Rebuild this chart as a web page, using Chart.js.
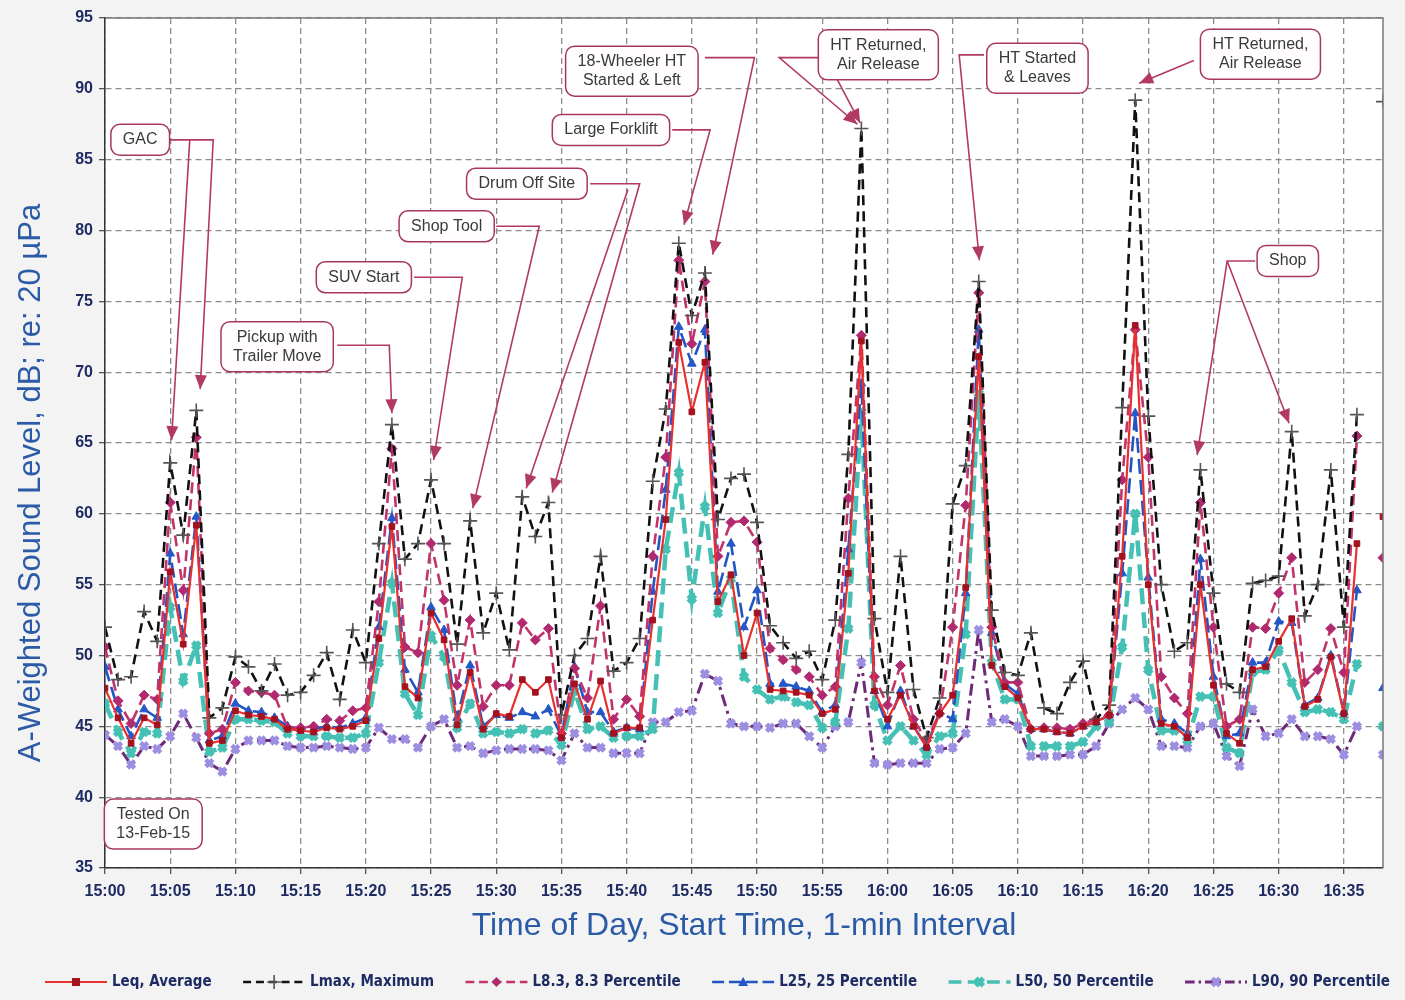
<!DOCTYPE html>
<html>
<head>
<meta charset="utf-8">
<script src="https://cdn.jsdelivr.net/npm/chart.js@4.4.1/dist/chart.umd.min.js"></script>
<style>
  html, body { margin: 0; padding: 0; background: #f3f3f3; }
  #wrap { width: 1405px; height: 1000px; position: relative; }
</style>
</head>
<body>
<div id="wrap"><canvas id="chart"></canvas></div>
<script>
// one reading per minute, starting at 15:00 (index = minutes after 15:00)
const xTickLabels = ['15:00', '15:05', '15:10', '15:15', '15:20', '15:25', '15:30', '15:35', '15:40', '15:45',
    '15:50', '15:55', '16:00', '16:05', '16:10', '16:15', '16:20', '16:25', '16:30', '16:35'];
const yTicks = [35, 40, 45, 50, 55, 60, 65, 70, 75, 80, 85, 90, 95];

const leq = [47.7, 45.6, 43.8, 45.6, 45.1, 55.9, 50.8, 59.2, 43.8, 44.0,
    46.1, 45.8, 45.7, 45.5, 44.8, 44.7, 44.6, 44.9, 44.8, 45.0,
    45.4, 51.2, 59.1, 47.8, 47.0, 53.0, 51.1, 45.1, 48.8, 44.8,
    45.9, 45.7, 48.3, 47.4, 48.3, 44.2, 48.0, 45.5, 48.2, 44.5,
    44.9, 44.9, 52.5, 59.6, 72.1, 67.2, 70.7, 53.8, 55.7, 50.0,
    53.0, 47.6, 47.5, 47.4, 47.2, 45.9, 46.2, 55.8, 72.2, 47.5,
    45.5, 47.2, 45.0, 43.5, 45.9, 47.2, 54.8, 71.1, 49.3, 47.8,
    47.0, 44.8, 44.8, 44.6, 44.5, 45.0, 45.3, 45.8, 57.0, 73.3,
    55.0, 45.2, 45.0, 44.2, 55.0, 47.9, 44.5, 43.8, 49.0, 49.2,
    51.0, 52.6, 46.4, 46.9, 49.9, 45.9, 57.9, null, 59.8];
const lmax = [52.0, 48.3, 48.5, 53.1, 51.0, 63.6, 58.5, 67.3, 45.6, 46.3,
    49.9, 49.2, 47.5, 49.4, 47.2, 47.4, 48.6, 50.2, 46.9, 51.8,
    49.5, 57.9, 66.3, 56.8, 57.9, 62.4, 57.9, 50.8, 59.5, 51.6,
    54.4, 50.4, 61.2, 58.4, 60.8, 45.8, 50.0, 51.2, 57.0, 48.9,
    49.5, 51.2, 62.3, 67.4, 79.1, 74.0, 77.0, 59.6, 62.5, 62.8,
    59.4, 52.1, 50.9, 49.8, 50.3, 48.3, 52.5, 64.2, 87.2, 52.6,
    47.4, 57.0, 47.6, 44.2, 47.0, 60.7, 63.4, 76.4, 53.2, 48.8,
    48.6, 51.6, 46.3, 45.9, 48.1, 49.6, 45.5, 46.5, 67.5, 89.2,
    66.9, 55.0, 50.3, 50.9, 63.1, 54.4, 48.0, 47.4, 55.1, 55.3,
    55.6, 65.8, 52.8, 55.0, 63.1, 52.0, 67.0, null, 89.1];
const l83 = [50.6, 46.8, 45.2, 47.2, 46.9, 60.8, 54.6, 65.4, 44.5, 44.8,
    48.1, 47.5, 47.4, 47.2, 44.9, 44.9, 45.0, 45.5, 45.4, 46.1,
    46.3, 53.8, 64.6, 50.6, 50.2, 57.9, 53.9, 47.9, 52.5, 46.4,
    47.9, 47.9, 52.3, 51.1, 51.9, 44.5, 49.1, 47.0, 53.5, 45.5,
    46.9, 45.7, 57.0, 64.0, 77.9, 72.0, 76.4, 57.0, 59.4, 59.5,
    58.0, 50.5, 49.7, 49.0, 48.5, 47.2, 47.8, 61.1, 72.6, 48.5,
    46.5, 49.3, 45.5, 44.0, 45.9, 52.0, 60.6, 75.6, 52.0, 48.1,
    48.1, 44.8, 44.9, 44.9, 44.8, 45.2, 45.5, 45.8, 62.4, 73.0,
    64.0, 48.5, 47.0, 45.9, 60.8, 52.0, 45.0, 45.5, 52.0, 51.9,
    54.4, 56.9, 48.1, 49.0, 51.9, 48.8, 65.5, null, 56.9];
const l25 = [49.2, 46.2, 44.3, 46.2, 45.6, 57.2, 51.5, 59.8, 44.0, 44.3,
    46.6, 46.1, 46.0, 45.6, 45.0, 44.8, 44.8, 45.0, 44.9, 45.2,
    45.6, 52.0, 59.7, 49.0, 47.4, 53.4, 51.8, 45.6, 49.3, 45.0,
    45.8, 45.6, 46.0, 45.7, 46.2, 44.3, 49.2, 46.0, 46.0, 44.6,
    44.9, 44.8, 54.5, 61.7, 73.2, 70.6, 73.0, 54.5, 57.9, 52.0,
    54.6, 48.0, 48.0, 47.8, 47.5, 46.0, 46.5, 57.5, 69.2, 47.5,
    45.0, 47.5, 45.0, 43.6, 46.0, 45.5, 54.4, 73.0, 51.6, 48.0,
    47.3, 44.8, 44.8, 44.6, 44.5, 45.0, 45.3, 45.8, 55.8, 67.1,
    55.5, 45.5, 45.2, 44.5, 56.8, 48.5, 44.3, 44.5, 49.5, 49.5,
    52.4, 52.3, 46.5, 47.0, 50.0, 46.0, 54.6, null, 47.7];
const l50 = [46.6, 44.6, 43.1, 44.6, 44.5, 53.4, 48.2, 50.7, 43.2, 43.5,
    45.5, 45.5, 45.4, 45.3, 44.5, 44.3, 44.3, 44.3, 44.2, 44.2,
    44.5, 49.5, 55.1, 47.3, 45.8, 51.4, 49.9, 44.9, 46.6, 44.5,
    44.6, 44.5, 44.8, 44.5, 44.7, 43.7, 47.5, 44.8, 45.0, 44.2,
    44.3, 44.3, 44.8, 57.5, 62.9, 54.0, 60.5, 53.0, 55.4, 48.5,
    47.6, 46.9, 47.1, 46.7, 46.5, 44.9, 45.3, 51.9, 67.2, 46.5,
    44.0, 45.0, 44.0, 43.0, 44.3, 44.5, 51.5, 68.5, 49.5, 46.9,
    46.9, 43.6, 43.6, 43.6, 43.6, 43.9, 45.0, 45.3, 50.6, 60.0,
    49.0, 44.7, 44.7, 44.0, 47.1, 47.1, 43.5, 43.1, 48.8, 49.0,
    50.4, 48.1, 46.0, 46.2, 46.0, 45.5, 49.4, null, 45.0];
const l90 = [44.4, 43.6, 42.3, 43.6, 43.4, 44.3, 45.9, 44.2, 42.4, 41.8,
    43.4, 44.0, 44.0, 44.0, 43.6, 43.5, 43.5, 43.6, 43.5, 43.4,
    43.5, 44.9, 44.1, 44.1, 43.5, 45.0, 45.5, 43.5, 43.6, 43.1,
    43.3, 43.4, 43.4, 43.4, 43.3, 42.6, 44.5, 43.5, 43.5, 43.1,
    43.1, 43.1, 45.3, 45.3, 46.0, 46.1, 48.7, 48.2, 45.2, 45.0,
    45.0, 44.9, 45.2, 45.2, 44.3, 43.5, 45.0, 45.3, 49.5, 42.4,
    42.3, 42.4, 42.4, 42.4, 43.4, 43.5, 44.5, 51.8, 45.3, 45.5,
    45.0, 42.9, 42.9, 42.9, 43.0, 43.0, 43.6, 45.2, 46.2, 47.0,
    46.2, 43.6, 43.6, 43.5, 45.0, 45.2, 42.9, 42.2, 46.2, 44.3,
    44.5, 45.5, 44.3, 44.3, 44.1, 43.0, 45.0, null, 43.0];

// callout boxes: centre and arrow paths in (minute, dB)
const notes = [
    { lines: ['GAC'], at: [2.7, 86.4],
      arrows: [[[4.8, 86.4], [8.3, 86.4], [7.3, 68.8]], [[6.5, 86.4], [5.1, 65.2]]] },
    { lines: ['Pickup with', 'Trailer Move'], at: [13.2, 71.8],
      arrows: [[[17.8, 71.9], [21.8, 71.9], [22.0, 67.1]]] },
    { lines: ['SUV Start'], at: [19.85, 76.7],
      arrows: [[[23.7, 76.7], [27.4, 76.7], [25.2, 63.8]]] },
    { lines: ['Shop Tool'], at: [26.2, 80.3],
      arrows: [[[30.0, 80.3], [33.3, 80.3], [28.2, 60.4]]] },
    { lines: ['Drum Off Site'], at: [32.35, 83.3],
      arrows: [[[37.2, 83.3], [41.0, 83.3], [34.3, 61.5]], [[40.1, 82.9], [32.3, 61.8]]] },
    { lines: ['Large Forklift'], at: [38.8, 87.1],
      arrows: [[[43.5, 87.1], [46.4, 87.1], [44.4, 80.4]]] },
    { lines: ['18-Wheeler HT', 'Started & Left'], at: [40.4, 91.25],
      arrows: [[[46.0, 92.2], [49.8, 92.2], [46.6, 78.3]]] },
    { lines: ['HT Returned,', 'Air Release'], at: [59.3, 92.4],
      arrows: [[[54.8, 92.2], [51.7, 92.2], [57.7, 87.5]], [[55.5, 91.8], [57.9, 87.6]]] },
    { lines: ['HT Started', '& Leaves'], at: [71.5, 91.45],
      arrows: [[[67.4, 92.4], [65.5, 92.4], [67.05, 77.9]]] },
    { lines: ['HT Returned,', 'Air Release'], at: [88.6, 92.45],
      arrows: [[[83.5, 92.0], [79.3, 90.4]]] },
    { lines: ['Shop'], at: [90.7, 77.85],
      arrows: [[[88.2, 77.85], [86.05, 77.85], [83.75, 64.15]], [[86.05, 77.85], [90.8, 66.4]]] },
    { lines: ['Tested On', '13-Feb-15'], at: [3.7, 38.1], arrows: [] }
];

const navy = '#1d2b62';
const axisBlue = '#2b5aa6';

const toPoints = arr => arr.map((v, i) => ({ x: i, y: v }));

const series = [
    { label: 'Leq, Average', data: leq, color: '#e8302e', width: 2.2, dash: [],
      pStyle: 'rect', pRadius: 4, pFill: '#a3121f', pBorder: '#a3121f', pWidth: 1 },
    { label: 'Lmax, Maximum', data: lmax, color: '#111111', width: 2.6, dash: [10, 6],
      pStyle: 'cross', pRadius: 7, pFill: '#666', pBorder: '#555', pWidth: 1.6 },
    { label: 'L8.3, 8.3 Percentile', data: l83, color: '#c2336b', width: 2.6, dash: [11, 6],
      pStyle: 'rectRot', pRadius: 5, pFill: '#b12a70', pBorder: '#b12a70', pWidth: 1 },
    { label: 'L25, 25 Percentile', data: l25, color: '#2255c4', width: 2.6, dash: [15, 6],
      pStyle: 'triangle', pRadius: 5, pFill: '#2458c8', pBorder: '#2458c8', pWidth: 1 },
    { label: 'L50, 50 Percentile', data: l50, color: '#45c0b5', width: 4.5, dash: [16, 8],
      pStyle: 'crossRot', pRadius: 5, pFill: '#45c0b5', pBorder: '#45c0b5', pWidth: 5 },
    { label: 'L90, 90 Percentile', data: l90, color: '#6e2a78', width: 3, dash: [12, 5, 3, 5],
      pStyle: 'crossRot', pRadius: 5, pFill: '#9c8ee0', pBorder: '#9c8ee0', pWidth: 4.5 }
];

// small marker drawer for legend samples
function drawMarker(ctx, s, x, y) {
    const r = s.pRadius;
    ctx.save();
    ctx.fillStyle = s.pFill;
    ctx.strokeStyle = s.pBorder;
    ctx.lineWidth = s.pWidth;
    ctx.setLineDash([]);
    ctx.beginPath();
    if (s.pStyle === 'rect') {
        ctx.rect(x - r, y - r, 2 * r, 2 * r);
        ctx.fill();
    } else if (s.pStyle === 'rectRot') {
        ctx.moveTo(x, y - r); ctx.lineTo(x + r, y); ctx.lineTo(x, y + r); ctx.lineTo(x - r, y);
        ctx.closePath(); ctx.fill();
    } else if (s.pStyle === 'triangle') {
        ctx.moveTo(x, y - r); ctx.lineTo(x + r, y + r * 0.8); ctx.lineTo(x - r, y + r * 0.8);
        ctx.closePath(); ctx.fill();
    } else if (s.pStyle === 'cross') {
        ctx.moveTo(x - r, y); ctx.lineTo(x + r, y); ctx.moveTo(x, y - r); ctx.lineTo(x, y + r);
        ctx.stroke();
    } else {
        const d = r * 0.75;
        ctx.moveTo(x - d, y - d); ctx.lineTo(x + d, y + d); ctx.moveTo(x + d, y - d); ctx.lineTo(x - d, y + d);
        ctx.stroke();
    }
    ctx.restore();
}

const backgroundPlugin = {
    id: 'bg',
    beforeDraw(chart) {
        const { ctx, chartArea: a } = chart;
        ctx.save();
        ctx.fillStyle = '#f3f3f3';
        ctx.fillRect(0, 0, chart.width, chart.height);
        ctx.fillStyle = '#ffffff';
        ctx.fillRect(a.left, a.top, a.right - a.left, a.bottom - a.top);
        ctx.restore();
    },
    afterDraw(chart) {
        const { ctx, chartArea: a } = chart;
        ctx.save();
        // frame of the plot area
        ctx.strokeStyle = '#7a7a7a';
        ctx.lineWidth = 1.5;
        ctx.beginPath();
        ctx.moveTo(a.left, a.top); ctx.lineTo(a.right, a.top); ctx.lineTo(a.right, a.bottom);
        ctx.stroke();

        // y axis title
        ctx.fillStyle = axisBlue;
        ctx.font = '31px "Liberation Sans", Arial, sans-serif';
        ctx.textAlign = 'center';
        ctx.textBaseline = 'middle';
        ctx.translate(31, (a.top + a.bottom) / 2 + 40);
        ctx.rotate(-Math.PI / 2);
        ctx.fillText('A-Weighted Sound Level, dB; re: 20 \u00b5Pa', 0, 0);
        ctx.restore();

        // legend along the bottom edge
        ctx.save();
        ctx.font = 'bold 15px "Liberation Sans Narrow", "DejaVu Sans Condensed", Arial, sans-serif';
        ctx.textBaseline = 'middle';
        const sample = 62, gap = 5, left = 45, right = 1390, yMid = 982;
        const widths = series.map(s => sample + gap + ctx.measureText(s.label).width);
        const space = (right - left - widths.reduce((p, c) => p + c, 0)) / (series.length - 1);
        let xPos = left;
        series.forEach((s, i) => {
            ctx.strokeStyle = s.color;
            ctx.lineWidth = Math.min(s.width, 3.5);
            ctx.setLineDash(s.dash.length ? s.dash.map(d => d * 0.8) : []);
            ctx.beginPath();
            ctx.moveTo(xPos, yMid); ctx.lineTo(xPos + sample, yMid);
            ctx.stroke();
            drawMarker(ctx, s, xPos + sample / 2, yMid);
            ctx.fillStyle = navy;
            ctx.setLineDash([]);
            ctx.fillText(s.label, xPos + sample + gap, yMid);
            xPos += widths[i] + space;
        });
        ctx.restore();
    }
};

const notesPlugin = {
    id: 'notes',
    afterDatasetsDraw(chart) {
        const { ctx, scales: { x, y } } = chart;
        const px = p => [x.getPixelForValue(p[0]), y.getPixelForValue(p[1])];
        ctx.save();
        ctx.font = '16px "Liberation Sans", Arial, sans-serif';
        notes.forEach(n => {
            ctx.strokeStyle = '#b23a62';
            ctx.fillStyle = '#b23a62';
            ctx.lineWidth = 1.6;
            ctx.setLineDash([]);
            n.arrows.forEach(path => {
                const pts = path.map(px);
                ctx.beginPath();
                ctx.moveTo(pts[0][0], pts[0][1]);
                pts.slice(1).forEach(p => ctx.lineTo(p[0], p[1]));
                ctx.stroke();
                const [x1, y1] = pts[pts.length - 2];
                const [x2, y2] = pts[pts.length - 1];
                const ang = Math.atan2(y2 - y1, x2 - x1);
                const len = 14, half = 6;
                ctx.beginPath();
                ctx.moveTo(x2, y2);
                ctx.lineTo(x2 - len * Math.cos(ang) + half * Math.sin(ang), y2 - len * Math.sin(ang) - half * Math.cos(ang));
                ctx.lineTo(x2 - len * Math.cos(ang) - half * Math.sin(ang), y2 - len * Math.sin(ang) + half * Math.cos(ang));
                ctx.closePath();
                ctx.fill();
            });

            const [cx, cy] = px(n.at);
            const tw = Math.max(...n.lines.map(l => ctx.measureText(l).width));
            const w = tw + 24, h = n.lines.length * 19 + 12;
            ctx.beginPath();
            ctx.roundRect(cx - w / 2, cy - h / 2, w, h, 9);
            ctx.fillStyle = '#fffdfd';
            ctx.fill();
            ctx.strokeStyle = '#a8385a';
            ctx.lineWidth = 1.5;
            ctx.stroke();
            ctx.fillStyle = '#3a3a3a';
            ctx.textAlign = 'center';
            ctx.textBaseline = 'middle';
            n.lines.forEach((l, i) => {
                ctx.fillText(l, cx, cy - (n.lines.length - 1) * 9.5 + i * 19);
            });
        });
        ctx.restore();
    }
};

new Chart(document.getElementById('chart'), {
    type: 'line',
    data: {
        datasets: series.map(s => ({
            label: s.label,
            data: toPoints(s.data),
            borderColor: s.color,
            borderWidth: s.width,
            borderDash: s.dash,
            pointStyle: s.pStyle,
            pointRadius: s.pRadius,
            pointBackgroundColor: s.pFill,
            pointBorderColor: s.pBorder,
            pointBorderWidth: s.pWidth,
            fill: false,
            tension: 0,
            spanGaps: false
        }))
    },
    options: {
        responsive: true,
        maintainAspectRatio: false,
        animation: false,
        layout: { padding: { left: 0, right: 22, top: 18, bottom: 0 } },
        plugins: {
            legend: { display: false },
            tooltip: { enabled: false }
        },
        scales: {
            x: {
                type: 'linear',
                min: 0,
                max: 98,
                afterFit: s => { s.height = 132; },
                ticks: {
                    stepSize: 5,
                    includeBounds: false,
                    autoSkip: false,
                    maxRotation: 0,
                    padding: 8,
                    color: navy,
                    font: { family: '"Liberation Sans", Arial, sans-serif', size: 16, weight: 'bold' },
                    callback: v => xTickLabels[v / 5] ?? ''
                },
                grid: { color: '#8c8c8c', lineWidth: 1.3, tickLength: 6, tickColor: '#555' },
                border: { display: true, color: '#333', width: 1.5, dash: [6, 4] },
                title: {
                    display: true,
                    text: 'Time of Day, Start Time, 1-min Interval',
                    color: axisBlue,
                    font: { family: '"Liberation Sans", Arial, sans-serif', size: 32 },
                    padding: { top: 0, bottom: 55 }
                }
            },
            y: {
                min: 35,
                max: 95,
                afterFit: s => { s.width = 105; },
                afterBuildTicks: s => { s.ticks = yTicks.map(v => ({ value: v })); },
                ticks: {
                    padding: 6,
                    color: navy,
                    font: { family: '"Liberation Sans", Arial, sans-serif', size: 16, weight: 'bold' }
                },
                grid: { color: '#8c8c8c', lineWidth: 1.3, tickLength: 6, tickColor: '#555' },
                border: { display: true, color: '#333', width: 1.5, dash: [6, 4] }
            }
        }
    },
    plugins: [backgroundPlugin, notesPlugin]
});
</script>
</body>
</html>
